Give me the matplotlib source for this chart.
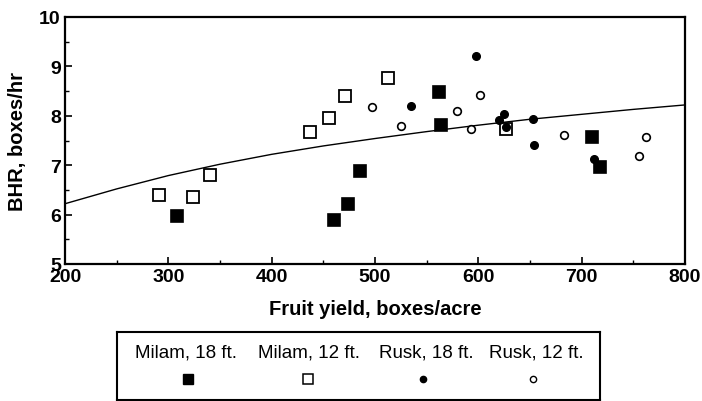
import matplotlib
matplotlib.use("Agg")
import matplotlib.pyplot as plt
from matplotlib.ticker import MultipleLocator

plt.rcParams['font.family'] = ['Liberation Sans', 'DejaVu Sans']

# Data
milam18_x = [308, 460, 474, 485, 562, 564, 710, 718]
milam18_y = [5.97, 5.89, 6.22, 6.88, 8.48, 7.81, 7.58, 6.96]

milam12_x = [291, 324, 340, 437, 455, 471, 513, 627]
milam12_y = [6.40, 6.35, 6.80, 7.67, 7.95, 8.40, 8.77, 7.73]

rusk18_x = [598, 535, 620, 625, 627, 653, 654, 712]
rusk18_y = [9.22, 8.20, 7.92, 8.04, 7.78, 7.93, 7.41, 7.13]

rusk12_x = [497, 525, 579, 593, 602, 683, 755, 762]
rusk12_y = [8.18, 7.79, 8.10, 7.74, 8.42, 7.61, 7.18, 7.58]

fit_x = [200, 250, 300, 350, 400, 450, 500, 550, 600, 650, 700, 750, 800]
fit_y = [6.22, 6.52, 6.79, 7.02, 7.22, 7.39, 7.54, 7.68, 7.81, 7.93, 8.03, 8.13, 8.22]

legend_labels = ["Milam, 18 ft.", "Milam, 12 ft.", "Rusk, 18 ft.", "Rusk, 12 ft."]

W, H = 702, 402
fig = plt.figure(figsize=(W / 100, H / 100), dpi=100)

def px_axes(l, t, r, b):
    return fig.add_axes([l / W, 1 - b / H, (r - l) / W, (b - t) / H])

ax = px_axes(65, 18, 685, 265)

ax.plot(fit_x, fit_y, color='black', lw=1.0, zorder=2)
ax.plot(milam18_x, milam18_y, 's', ms=8.8, mfc='black', mec='black', mew=1.2, ls='none', zorder=3)
ax.plot(milam12_x, milam12_y, 's', ms=8.8, mfc='white', mec='black', mew=1.3, ls='none', zorder=3)
ax.plot(rusk18_x, rusk18_y, 'o', ms=5.5, mfc='black', mec='black', mew=1.0, ls='none', zorder=4)
ax.plot(rusk12_x, rusk12_y, 'o', ms=5.5, mfc='white', mec='black', mew=1.2, ls='none', zorder=4)

ax.set_xlim(200, 800)
ax.set_ylim(5, 10)
ax.xaxis.set_major_locator(MultipleLocator(100))
ax.xaxis.set_minor_locator(MultipleLocator(50))
ax.yaxis.set_major_locator(MultipleLocator(1))
ax.yaxis.set_minor_locator(MultipleLocator(0.5))
ax.tick_params(which='both', direction='in', top=False, right=False)
ax.tick_params(which='major', length=5, width=1.2, labelsize=14, pad=3)
ax.tick_params(which='minor', length=3, width=1.0)
for lab in ax.get_xticklabels() + ax.get_yticklabels():
    lab.set_fontweight('bold')
for s in ax.spines.values():
    s.set_linewidth(1.6)

ax.set_xlabel("Fruit yield, boxes/acre", fontsize=14.5, fontweight='bold', labelpad=10)
ax.set_ylabel("BHR, boxes/hr", fontsize=14.5, fontweight='bold', labelpad=9)

# Legend box drawn in pixel coordinates
lx0, lx1, ly0, ly1 = 117, 600, 333, 401
lax = px_axes(lx0, ly0, lx1, ly1)
lax.set_xlim(lx0, lx1)
lax.set_ylim(ly1, ly0)
lax.set_xticks([])
lax.set_yticks([])
for s in lax.spines.values():
    s.set_linewidth(1.5)

text_cx = [186, 309, 426, 536]
mark_cx = [188, 308, 423, 533]
styles = [
    dict(marker='s', ms=6.5, mfc='black', mec='black', mew=1.0),
    dict(marker='s', ms=6.5, mfc='white', mec='black', mew=1.1),
    dict(marker='o', ms=4.5, mfc='black', mec='black', mew=1.0),
    dict(marker='o', ms=4.5, mfc='white', mec='black', mew=1.0),
]
for lab, tx, mx, st in zip(legend_labels, text_cx, mark_cx, styles):
    lax.text(tx, 353, lab, ha='center', va='center', fontsize=13.5)
    lax.plot([mx], [380], ls='none', **st)

fig.savefig("out.png", dpi=100)
